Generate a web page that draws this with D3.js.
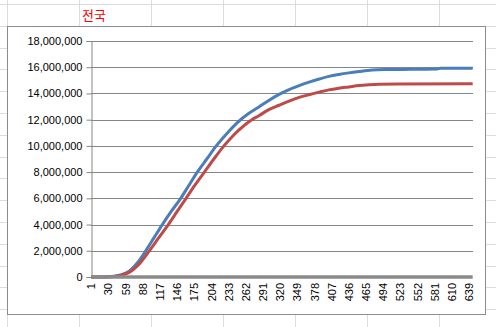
<!DOCTYPE html>
<html lang="ko">
<head>
<meta charset="UTF-8">
<title>전국</title>
<script src="https://d3js.org/d3.v7.min.js"></script>
<style>
  html, body { margin: 0; padding: 0; background: #fff; }
  svg { display: block; }
</style>
</head>
<body>
<svg id="chart"></svg>
<script>
// categories 1..645 (days), labels every 29
const categoryCount = 645;
const tickLabels = d3.range(1, categoryCount + 1, 29);
const yTicks = [0, 2000000, 4000000, 6000000, 8000000, 10000000, 12000000, 14000000, 16000000, 18000000];

// values (millions) at sample days
const blueDays =   [1, 20, 35, 50, 65, 80, 93, 107, 121, 136, 152, 166, 180, 196, 212, 230, 248, 266, 284, 300, 318, 335, 352, 370, 386, 402, 419, 436, 453, 475, 500, 540, 585, 590, 645];
const blueValues = [0, 0, 0.03, 0.15, 0.45, 1.15, 2.0, 3.0, 4.0, 5.0, 6.0, 7.0, 8.0, 9.0, 10.0, 10.95, 11.8, 12.45, 12.97, 13.45, 13.93, 14.3, 14.6, 14.88, 15.1, 15.3, 15.45, 15.57, 15.67, 15.78, 15.82, 15.84, 15.86, 15.92, 15.93];
const redDays =    [1, 20, 35, 50, 65, 80, 99, 115, 131, 146, 161, 176, 192, 208, 225, 240, 250, 272, 284, 300, 318, 335, 352, 370, 386, 402, 419, 436, 453, 470, 487, 520, 645];
const redValues =  [0, 0, 0.02, 0.12, 0.35, 0.9, 2.0, 3.0, 4.0, 5.0, 6.0, 7.0, 8.0, 9.0, 10.0, 10.75, 11.2, 12.0, 12.3, 12.75, 13.1, 13.42, 13.7, 13.92, 14.1, 14.27, 14.4, 14.5, 14.6, 14.66, 14.7, 14.72, 14.73];
const grayDays =   [1, 645];
const grayValues = [0, 0];

const W = 496, H = 327;
const svg = d3.select("#chart").attr("width", W).attr("height", H);

// spreadsheet cells behind the chart
const sheet = svg.append("g").attr("stroke", "#dadcdd").attr("stroke-width", 1).attr("shape-rendering", "crispEdges");
d3.range(7, W, 72).forEach(x => sheet.append("line").attr("x1", x + 0.5).attr("x2", x + 0.5).attr("y1", 0).attr("y2", H));
d3.range(4, H, 21.8).forEach(y => sheet.append("line").attr("x1", 0).attr("x2", W).attr("y1", Math.round(y) + 0.5).attr("y2", Math.round(y) + 0.5));

svg.append("text")
  .attr("x", 82).attr("y", 20)
  .attr("fill", "#ff0000")
  .attr("font-family", "'Noto Sans CJK KR', sans-serif")
  .attr("font-size", 13)
  .text("전국");

// chart area
svg.append("rect")
  .attr("x", 7.5).attr("y", 26.5).attr("width", 478).attr("height", 288)
  .attr("fill", "#fff").attr("stroke", "#8c8c8c").attr("stroke-width", 1);

const plotLeft = 91, plotRight = 473, plotTop = 41, plotBottom = 277;
const x = d3.scaleLinear().domain([0.5, categoryCount + 0.5]).range([plotLeft, plotRight]);
const y = d3.scaleLinear().domain([0, 18000000]).range([plotBottom, plotTop]);

// gridlines
svg.append("g")
  .selectAll("line").data(yTicks.slice(1)).join("line")
  .attr("x1", plotLeft).attr("x2", plotRight)
  .attr("y1", d => Math.round(y(d)) + 0.5).attr("y2", d => Math.round(y(d)) + 0.5)
  .attr("stroke", "#868686").attr("stroke-width", 1);

const yAxis = svg.append("g")
  .attr("transform", `translate(${plotLeft + 0.5},0)`)
  .call(d3.axisLeft(y).tickValues(yTicks).tickSize(5).tickPadding(4).tickFormat(d3.format(",")));
yAxis.select(".domain").attr("stroke", "#868686");
yAxis.selectAll(".tick line").attr("stroke", "#868686");
yAxis.selectAll("text").attr("font-family", "'Liberation Sans', Arial, sans-serif").attr("font-size", 11).attr("fill", "#000");

const line = d3.line().x(d => x(d[0])).y(d => y(d[1] * 1e6)).curve(d3.curveMonotoneX);
const series = [
  { days: blueDays, values: blueValues, color: "#4a7ebb", width: 3 },
  { days: redDays, values: redValues, color: "#be4b48", width: 3 },
  { days: grayDays, values: grayValues, color: "#8a8a8a", width: 3.5 }
];
series.forEach(s => {
  svg.append("path")
    .datum(s.days.map((d, i) => [d, s.values[i]]))
    .attr("fill", "none").attr("stroke", s.color).attr("stroke-width", s.width)
    .attr("d", line);
});

// x labels, rotated
svg.append("g")
  .selectAll("text").data(tickLabels).join("text")
  .attr("transform", d => `translate(${x(d) + 4},283) rotate(-90)`)
  .attr("text-anchor", "end")
  .attr("font-family", "'Liberation Sans', Arial, sans-serif")
  .attr("font-size", 11)
  .text(d => d);
</script>
</body>
</html>
